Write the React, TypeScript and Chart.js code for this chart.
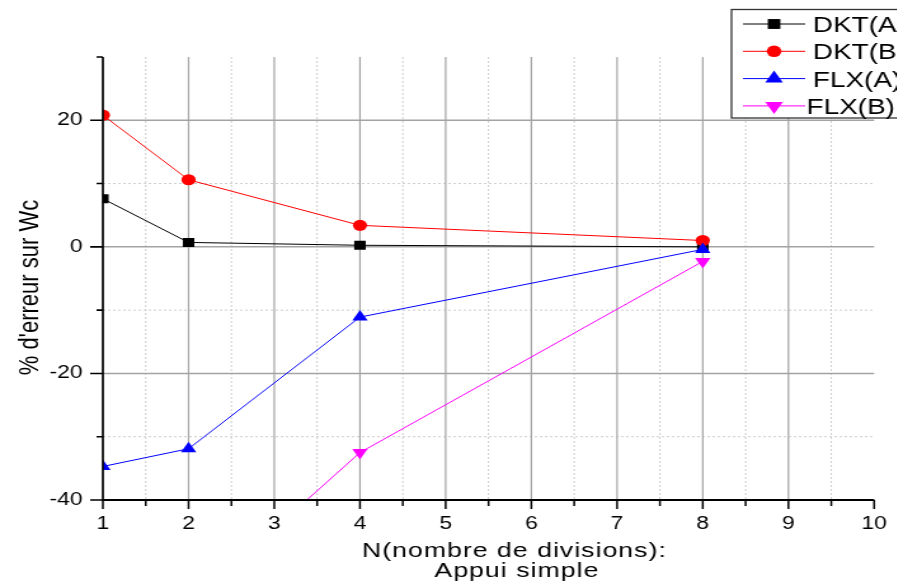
import React, { useEffect, useRef } from 'react';
import { Chart, registerables } from 'chart.js';

Chart.register(...registerables);

// ---- data ----
const divisions = [1, 2, 4, 8];
const dktA = [7.6, 0.7, 0.25, 0.0];
const dktB = [20.8, 10.6, 3.4, 1.0];
const flxA = [-34.7, -31.9, -11.1, -0.4];
const flxB: (number | null)[] = [null, -56.7, -32.5, -2.3];
const seriesNames = ['DKT(A)', 'DKT(B)', 'FLX(A)', 'FLX(B)'];
const xMajorTicks = [1, 2, 3, 4, 5, 6, 7, 8, 9, 10];
const xMinorTicks = [1.5, 2.5, 3.5, 4.5, 5.5, 6.5, 7.5, 8.5, 9.5];
const yMajorTicks = [-40, -20, 0, 20];
const yMinorTicks = [-30, -10, 10, 30];
const xTitleLines = ['N(nombre de divisions):', 'Appui simple'];
const yTitle = "% d'erreur sur Wc";

// ---- styles ----
const seriesStyles = [
  { color: '#000000', pointStyle: 'rect', radius: 6.4, rotation: 0, legendRadius: 7 },
  { color: '#ff0000', pointStyle: 'circle', radius: 5.6, rotation: 0, legendRadius: 5.8 },
  { color: '#0000ff', pointStyle: 'triangle', radius: 7, rotation: 0, legendRadius: 8 },
  { color: '#ff00ff', pointStyle: 'triangle', radius: 7, rotation: 180, legendRadius: 8 },
];
const FONT = '"Liberation Sans", Arial, sans-serif';
const W = 706;
const H = 587;
const SX = 1.27;

function drawMarker(ctx: CanvasRenderingContext2D, style: string, rotation: number, x: number, y: number, r: number, color: string) {
  ctx.save();
  ctx.fillStyle = color;
  ctx.beginPath();
  if (style === 'rect') {
    const s = Math.SQRT1_2 * r;
    ctx.rect(x - s, y - s, 2 * s, 2 * s);
  } else if (style === 'circle') {
    ctx.arc(x, y, r, 0, Math.PI * 2);
  } else {
    const dir = rotation === 180 ? -1 : 1;
    ctx.moveTo(x, y - dir * r);
    ctx.lineTo(x + r * Math.sin(Math.PI / 3), y + dir * r * 0.5);
    ctx.lineTo(x - r * Math.sin(Math.PI / 3), y + dir * r * 0.5);
    ctx.closePath();
  }
  ctx.fill();
  ctx.restore();
}

const gridPlugin = {
  id: 'customGrid',
  beforeDatasetsDraw(chart: any) {
    const { ctx, chartArea: a } = chart;
    const x = chart.scales.x;
    const y = chart.scales.y;
    ctx.save();
    // minor dotted
    ctx.setLineDash([2, 2]);
    ctx.strokeStyle = '#cccccc';
    ctx.lineWidth = 1;
    ctx.beginPath();
    xMinorTicks.forEach((v) => {
      const p = x.getPixelForValue(v);
      ctx.moveTo(p, a.top);
      ctx.lineTo(p, a.bottom);
    });
    yMinorTicks
      .filter((v) => v > y.min && v < y.max)
      .forEach((v) => {
        const p = y.getPixelForValue(v);
        ctx.moveTo(a.left, p);
        ctx.lineTo(a.right, p);
      });
    ctx.stroke();
    // major solid
    ctx.setLineDash([]);
    ctx.strokeStyle = '#a3a3a3';
    ctx.lineWidth = 1.2;
    ctx.beginPath();
    xMajorTicks
      .filter((v) => v > x.min && v < x.max)
      .forEach((v) => {
        const p = x.getPixelForValue(v);
        ctx.moveTo(p, a.top);
        ctx.lineTo(p, a.bottom);
      });
    ctx.stroke();
    ctx.lineWidth = 1.5;
    ctx.beginPath();
    yMajorTicks
      .filter((v) => v > y.min && v < y.max)
      .forEach((v) => {
        const p = y.getPixelForValue(v);
        ctx.moveTo(a.left, p);
        ctx.lineTo(a.right, p);
      });
    ctx.stroke();
    ctx.restore();
  },
  afterDatasetsDraw(chart: any) {
    const { ctx, chartArea: a } = chart;
    const x = chart.scales.x;
    const y = chart.scales.y;
    ctx.save();
    ctx.strokeStyle = '#000000';
    // y axis
    ctx.lineWidth = 1.7;
    ctx.beginPath();
    ctx.moveTo(a.left, a.top);
    ctx.lineTo(a.left, a.bottom + 1);
    ctx.stroke();
    // x axis
    ctx.lineWidth = 2;
    ctx.beginPath();
    ctx.moveTo(a.left, a.bottom);
    ctx.lineTo(a.right, a.bottom);
    ctx.stroke();
    // y ticks
    ctx.lineWidth = 1.6;
    ctx.beginPath();
    yMajorTicks.forEach((v) => {
      const p = y.getPixelForValue(v);
      ctx.moveTo(a.left - 10, p);
      ctx.lineTo(a.left, p);
    });
    yMinorTicks.forEach((v) => {
      const p = y.getPixelForValue(v);
      ctx.moveTo(a.left - 5, p);
      ctx.lineTo(a.left, p);
    });
    ctx.stroke();
    // x ticks
    ctx.lineWidth = 1.5;
    ctx.beginPath();
    xMajorTicks.forEach((v) => {
      const p = x.getPixelForValue(v);
      ctx.moveTo(p, a.bottom);
      ctx.lineTo(p, a.bottom + 9);
    });
    xMinorTicks.forEach((v) => {
      const p = x.getPixelForValue(v);
      ctx.moveTo(p, a.bottom);
      ctx.lineTo(p, a.bottom + 6);
    });
    ctx.stroke();
    ctx.restore();
  },
  afterDraw(chart: any) {
    const { ctx, chartArea: a } = chart;
    ctx.save();
    // axis titles
    ctx.fillStyle = '#000000';
    ctx.textAlign = 'center';
    ctx.textBaseline = 'alphabetic';
    ctx.font = `21px ${FONT}`;
    try {
      (ctx as any).letterSpacing = '0.8px';
    } catch (e) {
      /* ignore */
    }
    const cx = 405;
    ctx.fillText(xTitleLines[0], cx, a.bottom + 57);
    ctx.fillText(xTitleLines[1], cx + 2, a.bottom + 77);
    try {
      (ctx as any).letterSpacing = '0px';
    } catch (e) {
      /* ignore */
    }
    ctx.font = `22px ${FONT}`;
    ctx.translate(30, (a.top + a.bottom) / 2 + 9);
    ctx.rotate(-Math.PI / 2);
    ctx.fillText(yTitle, 0, 0);
    ctx.restore();

    // legend
    ctx.save();
    const bx = 576;
    const by = 9.5;
    ctx.fillStyle = '#ffffff';
    ctx.fillRect(bx, by, 200, 108.5);
    ctx.strokeStyle = '#333333';
    ctx.lineWidth = 1.3;
    ctx.strokeRect(bx, by, 200, 108.5);
    ctx.font = `22px ${FONT}`;
    ctx.textAlign = 'left';
    ctx.textBaseline = 'alphabetic';
    seriesNames.forEach((name, i) => {
      const st = seriesStyles[i];
      const cy = by + 14.5 + i * 27.3;
      ctx.strokeStyle = st.color;
      ctx.lineWidth = 1;
      ctx.beginPath();
      ctx.moveTo(bx + 9, cy);
      ctx.lineTo(bx + 58, cy);
      ctx.stroke();
      drawMarker(ctx, st.pointStyle, st.rotation, bx + 33.5, cy, st.legendRadius, st.color);
      ctx.fillStyle = '#000000';
      ctx.fillText(name, bx + (i === 3 ? 59 : 64), cy + 8);
    });
    ctx.restore();
  },
};

export default function App() {
  const canvasRef = useRef<HTMLCanvasElement | null>(null);

  useEffect(() => {
    const canvas = canvasRef.current;
    if (!canvas) return;
    const allSeries = [dktA, dktB, flxA, flxB];
    const chart = new Chart(canvas, {
      type: 'line',
      data: {
        datasets: allSeries.map((vals, i) => {
          const st = seriesStyles[i];
          return {
            label: seriesNames[i],
            data: divisions.map((n, k) => ({ x: n, y: vals[k] as any })),
            borderColor: st.color,
            backgroundColor: st.color,
            borderWidth: 1,
            pointStyle: st.pointStyle as any,
            pointRadius: st.radius,
            pointRotation: st.rotation,
            pointBorderWidth: 0,
            pointBackgroundColor: st.color,
            pointBorderColor: st.color,
            tension: 0,
            clip: 0 as any,
            order: 3 - i,
          };
        }),
      },
      options: {
        responsive: false,
        animation: false,
        devicePixelRatio: 1,
        layout: { padding: { left: 0, top: 57, right: 17.7, bottom: 0 } },
        plugins: {
          legend: { display: false },
          tooltip: { enabled: false },
          title: { display: false },
        },
        scales: {
          x: {
            type: 'linear',
            min: 1,
            max: 10,
            ticks: {
              stepSize: 1,
              color: '#000000',
              padding: 0,
              font: { family: FONT, size: 18 },
              maxRotation: 0,
              autoSkip: false,
            },
            grid: { display: false, drawTicks: true, tickLength: 13 },
            border: { display: false },
            afterFit: (s: any) => {
              s.height = 87;
            },
          },
          y: {
            type: 'linear',
            min: -40,
            max: 30,
            ticks: {
              stepSize: 10,
              color: '#000000',
              padding: 16,
              font: { family: FONT, size: 18 },
              callback: (v: any) => (Number(v) % 20 === 0 ? String(v) : ''),
            },
            grid: { display: false, drawTicks: false },
            border: { display: false },
            afterFit: (s: any) => {
              s.width = 81;
            },
          },
        },
      },
      plugins: [gridPlugin],
    });
    return () => chart.destroy();
  }, []);

  return (
    <div
      style={{
        position: 'absolute',
        left: 0,
        top: 0,
        width: 897,
        height: 587,
        overflow: 'hidden',
        background: '#ffffff',
      }}
    >
      <canvas
        ref={canvasRef}
        width={W}
        height={H}
        style={{
          display: 'block',
          width: `${W}px`,
          height: `${H}px`,
          transform: `scaleX(${SX})`,
          transformOrigin: '0 0',
        }}
      />
    </div>
  );
}
